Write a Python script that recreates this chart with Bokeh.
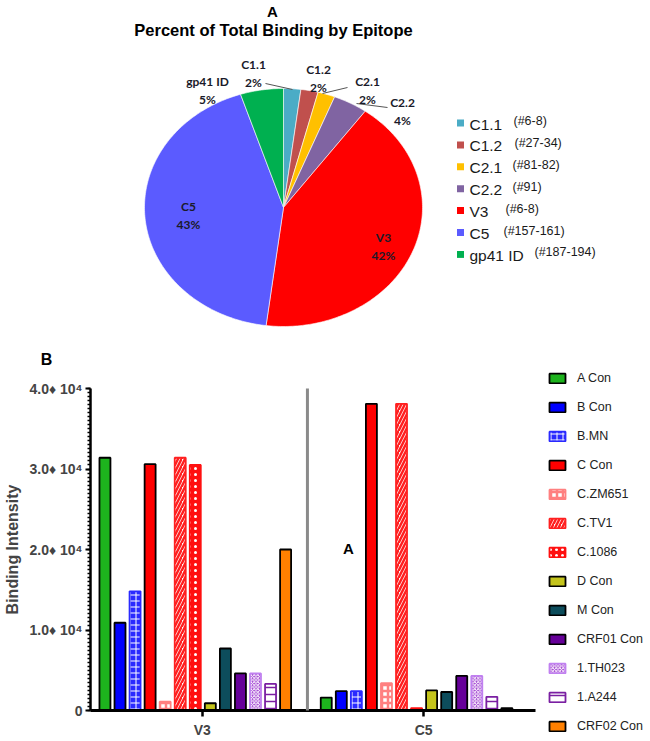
import numpy as np
from bokeh.plotting import figure
from bokeh.models import Range1d, FixedTicker, Legend, LegendItem, Arrow
from bokeh.core.properties import value
from bokeh.embed import file_html
from bokeh.resources import INLINE

# ---------------- data ----------------
epitopes = ["C1.1", "C1.2", "C2.1", "C2.2", "V3", "C5", "gp41 ID"]
epitope_codes = ["(#6-8)", "(#27-34)", "(#81-82)", "(#91)", "(#6-8)", "(#157-161)", "(#187-194)"]
percent = [2, 2, 2, 4, 42, 43, 5]

regions = ["V3", "C5"]
strains = ["A Con", "B Con", "B.MN", "C Con", "C.ZM651", "C.TV1", "C.1086",
           "D Con", "M Con", "CRF01 Con", "1.TH023", "1.A244", "CRF02 Con"]
v3_values = [31400, 10900, 14800, 30600, 1100, 31400, 30500, 900, 7700, 4600, 4600, 3300, 20000]
c5_values = [1600, 2400, 2400, 38100, 3400, 38100, 300, 2500, 2300, 4300, 4300, 1700, 300]
y_ticks = [0, 10000, 20000, 30000, 40000]
y_tick_labels = ["0", "1.0\u2666 10\u2074", "2.0\u2666 10\u2074", "3.0\u2666 10\u2074", "4.0\u2666 10\u2074"]

# ---------------- styles ----------------
pie_colors = ["#4bacc6", "#c0504d", "#ffc000", "#8064a2", "#ff0000", "#5b5bff", "#00b050"]
FONT = "Liberation Sans"
ARIAL = value(FONT)
LATO = value("Lato")

bar_styles = [
    dict(fill_color="#1db31d", line_color="black"),
    dict(fill_color="#0000ff", line_color="black"),
    dict(fill_color="#2a2aff", line_color="#2a2aff", hatch_pattern="cross", hatch_color="white", hatch_scale=6, hatch_weight=1),
    dict(fill_color="#ff0000", line_color="black"),
    dict(fill_color="white", line_color="#ff8080", hatch_pattern="cross", hatch_color="#ff8080", hatch_scale=6, hatch_weight=2.5),
    dict(fill_color="white", line_color="#ff2020", hatch_pattern="right_diagonal_line", hatch_color="#ff2020", hatch_scale=7, hatch_weight=2.5),
    dict(fill_color="#ff1010", line_color="#ff1010", hatch_pattern="dot", hatch_color="white", hatch_scale=6, hatch_weight=3),
    dict(fill_color="#c4c41c", line_color="black"),
    dict(fill_color="#0d4d5c", line_color="black"),
    dict(fill_color="#660099", line_color="black"),
    dict(fill_color="#a040d0", line_color="#c080f0", hatch_pattern="diagonal_cross", hatch_color="white", hatch_scale=3.5, hatch_weight=1),
    dict(fill_color="white", line_color="#7a1fa2", hatch_pattern="horizontal_line", hatch_color="#7a1fa2", hatch_scale=7, hatch_weight=1.5),
    dict(fill_color="#ff8000", line_color="black"),
]

# ---------------- top figure: pie ----------------
W1, H1 = 634, 375
p1 = figure(width=W1, height=H1, output_backend="svg", toolbar_location=None,
            x_range=Range1d(0, W1), y_range=Range1d(H1, 0), min_border=0)
p1.axis.visible = False
p1.grid.visible = False
p1.outline_line_color = None

cx, cy, rx, ry = 283, 207, 139, 119
frac = np.concatenate([[0.0], np.cumsum(percent)]) / float(sum(percent))
xs_list, ys_list = [], []
for s, e in zip(frac[:-1], frac[1:]):
    th = np.linspace(s, e, max(int((e - s) * 360), 2) + 1) * 2 * np.pi
    xs_list.append([cx] + list(cx + rx * np.sin(th)))
    ys_list.append([cy] + list(cy - ry * np.cos(th)))
p1.patches(xs_list, ys_list, fill_color=pie_colors, line_color="white", line_width=0.6)

# leader lines
p1.segment(x0=[265, 322, 356], y0=[83, 93, 103], x1=[292, 347, 387], y1=[89, 87, 107],
           line_color="#555555", line_width=1)

label_x = [253, 318, 367, 402, 383, 188, 207]
label_y = [73, 78, 90, 111, 246, 215, 90]
p1.text(x=label_x, y=label_y, text=[f"{n}\n{v}%" for n, v in zip(epitopes, percent)],
        text_font=LATO, text_font_style="bold", text_font_size="12px",
        text_align="center", text_baseline="middle", text_color="#1a1a2a", text_line_height=1.15)

p1.text(x=[273], y=[29], text=["Percent of Total Binding by Epitope"], text_font=ARIAL,
        text_font_style="bold", text_font_size="16.5px", text_align="center", text_baseline="middle",
        text_color="black")
p1.text(x=[272], y=[11], text=["A"], text_font=ARIAL, text_font_style="bold", text_font_size="15px",
        text_align="center", text_baseline="middle", text_color="black")
p1.text(x=[46], y=[359], text=["B"], text_font=ARIAL, text_font_style="bold", text_font_size="16px",
        text_align="center", text_baseline="middle", text_color="black")

# pie legend
leg_y = [122.5 + 21.9 * i for i in range(len(epitopes))]
p1.scatter(x=[460] * len(epitopes), y=leg_y, marker="square", size=7, fill_color=pie_colors, line_color=None)
p1.text(x=[469] * len(epitopes), y=[y + 1 for y in leg_y], text=epitopes, text_font=ARIAL,
        text_font_size="15.5px", text_align="left", text_baseline="middle", text_color="#1a1a1a")
code_x = [513, 514, 512, 512, 505, 503, 534]
p1.text(x=code_x, y=[y - 2 for y in leg_y], text=epitope_codes, text_font=ARIAL,
        text_font_size="12.5px", text_align="left", text_baseline="middle", text_color="#1a1a1a")

# ---------------- bottom figure: bars ----------------
GROUP_STEP = 14.7
BAR_W = 0.73
p2 = figure(frame_width=445, frame_height=322, output_backend="svg", toolbar_location=None,
            x_range=Range1d(-0.96, 28.6), y_range=Range1d(0, 40000),
            min_border_left=90, min_border_right=107, min_border_top=13, min_border_bottom=23)
p2.grid.visible = False
p2.outline_line_color = None

items = []
for j, (name, st) in enumerate(zip(strains, bar_styles)):
    xs = [g * GROUP_STEP + j for g in range(len(regions))]
    tops = [v3_values[j], c5_values[j]]
    r = p2.vbar(x=xs, top=tops, bottom=0, width=BAR_W, line_width=1.8, **st)
    items.append(LegendItem(label=name, renderers=[r]))

center_ticks = [g * GROUP_STEP + (len(strains) - 1) / 2 + 0.47 for g in range(len(regions))]

sep_x = GROUP_STEP - 1.25
p2.add_layout(Arrow(end=None, x_start=sep_x, y_start=40400, x_end=sep_x,
                    y_end=-3900, line_color="#8a8a8a", line_width=3))

p2.text(x=[16.18], y=[20100], text=["A"], text_font=ARIAL, text_font_style="bold",
        text_font_size="15px", text_align="center", text_baseline="middle", text_color="black")

xa = p2.xaxis[0]
xa.ticker = FixedTicker(ticks=center_ticks, minor_ticks=[])
xa.major_label_overrides = {t: r for t, r in zip(center_ticks, regions)}
xa.axis_line_width = 3
xa.major_tick_line_width = 2.5
xa.major_tick_out = 6
xa.major_tick_in = 0
xa.minor_tick_line_color = None
xa.major_label_standoff = 5
xa.major_label_text_font = FONT
xa.major_label_text_font_style = "bold"
xa.major_label_text_font_size = "14px"

ya = p2.yaxis[0]
ya.ticker = FixedTicker(ticks=y_ticks, minor_ticks=list(range(0, 40001, 500)))
ya.major_label_overrides = {t: s for t, s in zip(y_ticks, y_tick_labels)}
ya.axis_line_width = 2.5
ya.major_tick_line_width = 2
ya.major_tick_out = 5
ya.major_tick_in = 0
ya.minor_tick_out = 3
ya.minor_tick_in = 0
ya.minor_tick_line_width = 1.5
ya.major_label_standoff = 3
ya.major_label_text_font = FONT
ya.major_label_text_font_style = "bold"
ya.major_label_text_font_size = "14px"
ya.axis_label = "Binding Intensity"
ya.axis_label_text_font = FONT
ya.axis_label_text_font_style = "bold"
ya.axis_label_text_font_size = "16px"
ya.axis_label_standoff = 6

legend = Legend(items=items, location=(12, -23), orientation="vertical", glyph_width=20,
                glyph_height=12, label_height=14, spacing=15, label_standoff=10, padding=0,
                margin=0, border_line_color=None, background_fill_alpha=0,
                label_text_font=FONT, label_text_font_size="12.5px", label_text_color="#222222")
p2.add_layout(legend, "right")

open("out.html", "w").write(file_html([p1, p2], INLINE))
